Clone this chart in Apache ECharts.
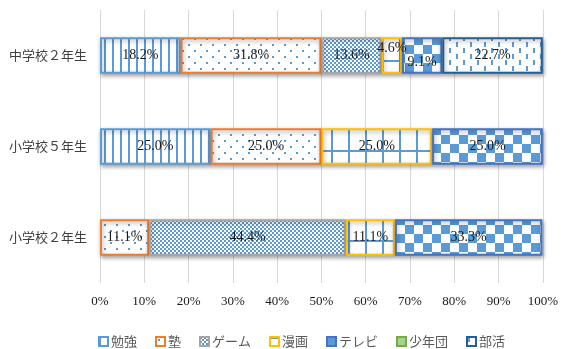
<!DOCTYPE html>
<html>
<head>
<meta charset="utf-8">
<script src="https://cdn.jsdelivr.net/npm/echarts@6/dist/echarts.min.js"></script>
<style>
  html, body { margin: 0; padding: 0; background: #fff; }
  #chart { width: 561px; height: 349px; }
</style>
</head>
<body>
<div id="chart"></div>
<script>
// Grades, listed bottom to top on the category axis
const grades = ['小学校２年生', '小学校５年生', '中学校２年生'];

// Share of answers (%) per activity, one value per grade (same order as grades)
const benkyo  = [0,    25.0, 18.2];
const juku    = [11.1, 25.0, 31.8];
const game    = [44.4, 0,    13.6];
const manga   = [11.1, 25.0, 4.6];
const terebi  = [33.3, 25.0, 9.1];
const shonen  = [0,    0,    0];
const bukatsu = [0,    0,    22.7];

const activityNames = ['勉強', '塾', 'ゲーム', '漫画', 'テレビ', '少年団', '部活'];
const activityValues = [benkyo, juku, game, manga, terebi, shonen, bukatsu];

const xTicks = [0, 10, 20, 30, 40, 50, 60, 70, 80, 90, 100];

// ---- fill patterns -------------------------------------------------------
const INK = '#5B9BD5';
function pattern(w, h, draw) {
  const c = document.createElement('canvas');
  c.width = w; c.height = h;
  const g = c.getContext('2d');
  g.fillStyle = '#ffffff';
  g.fillRect(0, 0, w, h);
  g.fillStyle = INK;
  draw(g);
  return { image: c, repeat: 'repeat' };
}
const patStripes = pattern(8, 8, g => g.fillRect(0, 0, 2, 8));
const patDots = pattern(12, 12, g => { g.fillRect(2, 2, 2, 2); g.fillRect(8, 8, 2, 2); });
const patFineCheck = pattern(4, 4, g => { g.fillRect(0, 0, 2, 2); g.fillRect(2, 2, 2, 2); });
const patGrid = pattern(17, 30, g => { g.fillRect(8, 0, 2, 30); g.fillRect(0, 0, 17, 2); });
const patCheck = pattern(18, 18, g => { g.fillRect(0, 0, 9, 9); g.fillRect(9, 9, 9, 9); });
const patDashV = pattern(14, 12, g => { g.fillRect(1, 0, 2, 5); g.fillRect(8, 6, 2, 5); });

const fills   = [patStripes, patDots, patFineCheck, patGrid, patCheck, '#A9D18E', patDashV];
const borders = ['#5B9BD5', '#ED7D31', '#A5A5A5', '#FFC000', '#4472C4', '#70AD47', '#255E91'];

// narrow segments in the top bar get their labels nudged apart
const labelNudge = { '漫画': -7, 'テレビ': 7 };
const topRow = grades.length - 1;

const series = activityNames.map((name, si) => ({
  name,
  type: 'bar',
  stack: 'total',
  barWidth: '40%',
  itemStyle: {
    color: fills[si],
    borderColor: borders[si],
    borderWidth: 2,
    shadowColor: 'rgba(0,0,0,0.35)',
    shadowBlur: 4,
    shadowOffsetX: 1,
    shadowOffsetY: 2
  },
  label: {
    show: true,
    position: 'inside',
    color: '#1a1a1a',
    fontFamily: '"Liberation Serif", "DejaVu Serif", serif',
    fontSize: 14,
    formatter: p => (typeof p.value === 'number' && p.value > 0) ? p.value.toFixed(1) + '%' : ''
  },
  data: activityValues[si].map((v, gi) => {
    if (v === 0) return '-';
    if (gi === topRow && labelNudge[name] !== undefined) {
      return { value: v, label: { offset: [0, labelNudge[name]] } };
    }
    return v;
  })
}));

const chart = echarts.init(document.getElementById('chart'), null, { renderer: 'canvas' });
chart.setOption({
  animation: false,
  backgroundColor: '#ffffff',
  grid: { left: 100, right: 16, top: 10, bottom: 66 },
  legend: {
    data: activityNames,
    top: 335,
    left: 98,
    padding: 0,
    icon: 'rect',
    itemWidth: 9,
    itemHeight: 9,
    itemGap: 18,
    textStyle: {
      color: '#595959',
      fontSize: 13,
      fontFamily: '"Noto Sans CJK JP", sans-serif',
      padding: [0, 0, 0, -2]
    }
  },
  xAxis: {
    type: 'value',
    min: xTicks[0],
    max: xTicks[xTicks.length - 1],
    interval: xTicks[1] - xTicks[0],
    axisLine: { show: false },
    axisTick: { show: false },
    axisLabel: {
      formatter: '{value}%',
      color: '#1a1a1a',
      fontSize: 13,
      margin: 12,
      fontFamily: '"Liberation Serif", "DejaVu Serif", serif'
    },
    splitLine: { lineStyle: { color: '#D9D9D9', width: 1 } }
  },
  yAxis: {
    type: 'category',
    data: grades,
    axisLine: { show: false },
    axisTick: { show: false },
    axisLabel: {
      color: '#404040',
      fontSize: 13,
      margin: 13,
      fontFamily: '"Noto Sans CJK JP", sans-serif'
    }
  },
  series
});
</script>
</body>
</html>
